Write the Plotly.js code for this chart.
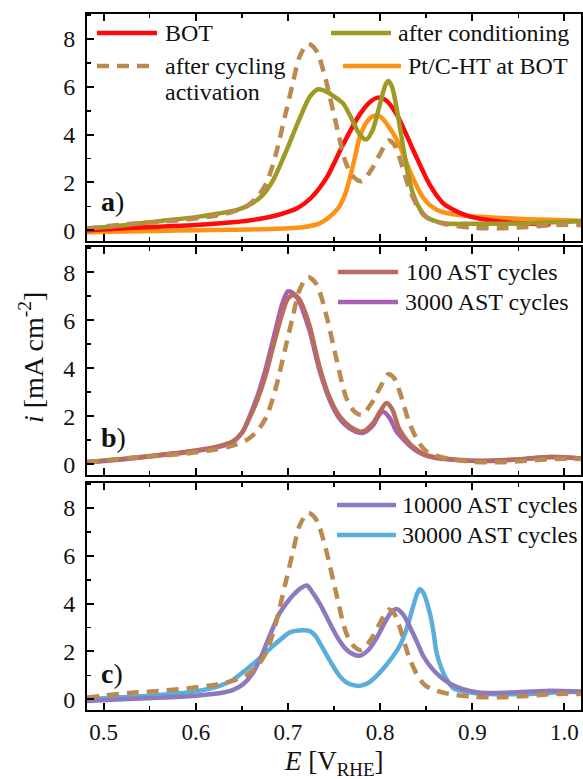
<!DOCTYPE html>
<html>
<head>
<meta charset="utf-8">
<script src="https://cdn.plot.ly/plotly-3.0.1.min.js"></script>
<style>
  html, body { margin: 0; padding: 0; background: #fff; }
  #chart { width: 583px; height: 779px; }
</style>
</head>
<body>
<div id="chart"></div>
<script>
// ---- Data: potential E [V_RHE] and current density i [mA cm^-2] ----
// after cycling activation (reference curve, shown in all panels)
const E_act = [0.482,0.50,0.53,0.56,0.59,0.62,0.64,0.655,0.667,0.677,0.687,0.697,0.705,0.713,0.722,0.731,0.741,0.752,0.763,0.772,0.780,0.790,0.800,0.809,0.815,0.821,0.832,0.842,0.850,0.862,0.875,0.90,0.93,0.96,0.99,1.018];
const I_act = [0.07,0.15,0.27,0.35,0.45,0.60,0.77,1.0,1.4,2.0,3.2,4.8,6.1,7.3,7.8,7.5,6.3,4.5,2.8,2.2,2.05,2.5,3.2,3.75,3.6,3.05,1.7,0.9,0.55,0.35,0.22,0.10,0.08,0.14,0.22,0.22];

// BOT
const E_bot = [0.482,0.52,0.56,0.60,0.64,0.67,0.69,0.71,0.725,0.742,0.76,0.778,0.79,0.798,0.806,0.818,0.836,0.854,0.868,0.88,0.895,0.91,0.94,0.97,0.985];
const I_bot = [0.0,0.07,0.15,0.22,0.33,0.48,0.65,0.92,1.35,2.2,3.6,4.85,5.4,5.55,5.45,4.85,3.35,1.9,1.15,0.85,0.6,0.47,0.32,0.26,0.25];

// after conditioning
const E_cond = [0.482,0.52,0.56,0.60,0.625,0.645,0.66,0.672,0.684,0.698,0.713,0.724,0.733,0.742,0.750,0.760,0.770,0.778,0.785,0.792,0.800,0.806,0.809,0.813,0.818,0.825,0.830,0.836,0.843,0.850,0.86,0.872,0.90,0.95,0.98,1.018];
const I_cond = [0.07,0.2,0.38,0.55,0.7,0.85,1.1,1.45,2.1,3.3,4.7,5.6,5.9,5.8,5.6,5.3,4.6,4.0,3.8,4.2,5.3,6.1,6.25,6.0,5.1,3.5,2.4,1.5,0.9,0.56,0.38,0.28,0.27,0.28,0.32,0.38];

// Pt/C-HT at BOT
const E_htc = [0.482,0.52,0.56,0.60,0.64,0.68,0.70,0.72,0.735,0.745,0.755,0.762,0.768,0.773,0.778,0.785,0.791,0.796,0.802,0.810,0.818,0.825,0.832,0.839,0.846,0.854,0.862,0.872,0.89,0.91,0.94,0.97,1.00,1.018];
const I_htc = [-0.08,-0.05,-0.03,0.0,0.02,0.05,0.08,0.15,0.3,0.55,0.95,1.5,2.3,3.1,3.9,4.5,4.75,4.8,4.7,4.3,3.8,3.2,2.5,1.9,1.4,1.05,0.85,0.72,0.62,0.56,0.5,0.45,0.42,0.4];

// 100 AST cycles
const E_100 = [0.482,0.52,0.56,0.60,0.625,0.64,0.65,0.658,0.667,0.675,0.684,0.694,0.700,0.706,0.712,0.718,0.724,0.734,0.745,0.756,0.770,0.781,0.792,0.800,0.807,0.813,0.821,0.830,0.836,0.846,0.858,0.88,0.91,0.95,0.985,1.018];
const I_100 = [0.1,0.22,0.38,0.57,0.75,0.95,1.3,1.9,2.7,3.6,4.9,6.3,6.9,7.05,6.9,6.4,5.7,4.1,2.8,2.0,1.5,1.36,1.7,2.2,2.55,2.3,1.45,0.95,0.72,0.45,0.3,0.2,0.14,0.2,0.3,0.24];

// 3000 AST cycles
const E_3000 = [0.482,0.52,0.56,0.60,0.625,0.64,0.65,0.658,0.667,0.675,0.684,0.694,0.700,0.705,0.712,0.718,0.724,0.734,0.745,0.756,0.770,0.781,0.792,0.798,0.803,0.810,0.818,0.830,0.836,0.846,0.858,0.88,0.91,0.95,0.985,1.018];
const I_3000 = [0.08,0.2,0.36,0.55,0.72,0.92,1.3,1.95,2.85,3.85,5.2,6.7,7.2,7.15,6.8,6.2,5.5,3.95,2.7,1.9,1.42,1.3,1.6,2.0,2.2,1.95,1.35,0.85,0.65,0.42,0.28,0.18,0.13,0.2,0.3,0.24];

// 10000 AST cycles
const E_10k = [0.482,0.52,0.56,0.60,0.625,0.64,0.652,0.662,0.670,0.677,0.684,0.691,0.700,0.7055,0.714,0.7206,0.727,0.7345,0.742,0.749,0.756,0.763,0.770,0.778,0.787,0.796,0.805,0.812,0.818,0.825,0.832,0.84,0.847,0.856,0.865,0.876,0.89,0.907,0.94,0.98,1.018];
const I_10k = [-0.07,0.0,0.06,0.15,0.25,0.38,0.65,1.1,1.7,2.35,3.0,3.6,4.1,4.35,4.65,4.76,4.45,4.0,3.45,2.92,2.45,2.1,1.9,1.82,2.05,2.55,3.2,3.65,3.78,3.55,3.05,2.4,1.8,1.3,0.95,0.65,0.42,0.28,0.28,0.35,0.32];

// 30000 AST cycles
const E_30k = [0.482,0.52,0.56,0.60,0.625,0.64,0.655,0.669,0.683,0.695,0.702,0.712,0.724,0.730,0.7345,0.742,0.749,0.756,0.763,0.770,0.778,0.787,0.796,0.805,0.814,0.820,0.825,0.830,0.836,0.840,0.843,0.847,0.854,0.858,0.861,0.866,0.872,0.88,0.90,0.925,0.96,1.0,1.018];
const I_30k = [0.0,0.08,0.18,0.33,0.55,0.8,1.25,1.7,2.2,2.6,2.8,2.88,2.85,2.65,2.36,1.85,1.39,0.98,0.72,0.6,0.56,0.68,0.97,1.35,1.8,2.15,2.55,3.1,3.9,4.4,4.6,4.45,3.6,2.8,2.0,1.35,0.85,0.45,0.27,0.21,0.22,0.3,0.3];

// ---- Styling ----
const FONT = '"Liberation Serif", Tinos, "Times New Roman", "DejaVu Serif", serif';
const W = 583, H = 779;
const M = {l: 87, r: 2, t: 14, b: 69};
const PW = W - M.l - M.r, PH = H - M.t - M.b;
const px2paper = (px, py) => ({x: (px - M.l) / PW, y: (H - M.b - py) / PH});

const LW = 4.5;
const S = {
  act:  {name: 'after cycling activation', color: '#BB8A4E', dash: '12px,8px'},
  bot:  {name: 'BOT', color: '#FF0A0A', dash: 'solid'},
  cond: {name: 'after conditioning', color: '#9F9A24', dash: 'solid'},
  htc:  {name: 'Pt/C-HT at BOT', color: '#FF9214', dash: 'solid'},
  c100: {name: '100 AST cycles', color: '#B86C5E', dash: 'solid'},
  c3k:  {name: '3000 AST cycles', color: '#A860B4', dash: 'solid'},
  c10k: {name: '10000 AST cycles', color: '#8C7ABF', dash: 'solid'},
  c30k: {name: '30000 AST cycles', color: '#5BAEDB', dash: 'solid'}
};

function tr(E, I, s, ax) {
  return {
    x: E, y: I, type: 'scatter', mode: 'lines', name: s.name,
    xaxis: ax[0], yaxis: ax[1],
    line: {color: s.color, width: LW, dash: s.dash, shape: 'spline', smoothing: 0.8},
    hoverinfo: 'skip'
  };
}

const A = ['x', 'y'], B = ['x2', 'y2'], C = ['x3', 'y3'];
const data = [
  tr(E_htc, I_htc, S.htc, A),
  tr(E_bot, I_bot, S.bot, A),
  tr(E_cond, I_cond, S.cond, A),
  tr(E_act, I_act, S.act, A),
  tr(E_3000, I_3000, S.c3k, B),
  tr(E_100, I_100, S.c100, B),
  tr(E_act, I_act, S.act, B),
  tr(E_30k, I_30k, S.c30k, C),
  tr(E_10k, I_10k, S.c10k, C),
  tr(E_act, I_act, S.act, C)
];

const xBase = {
  range: [0.482, 1.018], tick0: 0.5, dtick: 0.1, tickformat: '.1f',
  ticks: 'inside', ticklen: 7, tickwidth: 2, tickcolor: '#000',
  minor: {dtick: 0.05, ticks: 'inside', ticklen: 4, tickwidth: 1.5, tickcolor: '#000'},
  showline: true, linewidth: 2, linecolor: '#000', mirror: 'ticks',
  showgrid: false, zeroline: false,
  tickfont: {family: FONT, size: 23, color: '#111'}
};
const yBase = {
  range: [-0.45, 9.05], tick0: 0, dtick: 2,
  ticks: 'inside', ticklen: 7, tickwidth: 2, tickcolor: '#000',
  minor: {dtick: 1, ticks: 'inside', ticklen: 4, tickwidth: 1.5, tickcolor: '#000'},
  showline: true, linewidth: 2, linecolor: '#000', mirror: true,
  showgrid: false, zeroline: false,
  tickfont: {family: FONT, size: 24, color: '#111'},
  ticklabelstandoff: 5
};

const yDomA = [(H - M.b - 241) / PH, 1];
const yDomB = [(H - M.b - 475) / PH, (H - M.b - 247) / PH];
const yDomC = [0, (H - M.b - 483) / PH];

// legend entries: [style, line x0, line x1, y, text x, label]
const legendRows = [
  [S.bot, 97, 157, 33, 163, 'BOT'],
  [S.act, 97, 157, 66, 163, 'after cycling'],
  [null, 0, 0, 92, 163, 'activation'],
  [S.cond, 331, 391, 33, 396, 'after conditioning'],
  [S.htc, 343, 401, 66, 406, 'Pt/C-HT at BOT'],
  [S.c100, 338, 398, 272, 404, '100 AST cycles'],
  [S.c3k, 338, 398, 302, 403, '3000 AST cycles'],
  [S.c10k, 337, 396, 505, 400, '10000 AST cycles'],
  [S.c30k, 337, 396, 535, 400, '30000 AST cycles']
];

const shapes = [];
const annotations = [];
legendRows.forEach(([s, x0, x1, y, tx, label]) => {
  if (s) {
    const p0 = px2paper(x0, y), p1 = px2paper(x1, y);
    shapes.push({
      type: 'line', xref: 'paper', yref: 'paper',
      x0: p0.x, x1: p1.x, y0: p0.y, y1: p1.y,
      line: {color: s.color, width: LW, dash: s.dash}
    });
  }
  const pt = px2paper(tx, y);
  annotations.push({
    xref: 'paper', yref: 'paper', x: pt.x, y: pt.y,
    xanchor: 'left', yanchor: 'middle', showarrow: false,
    text: label, font: {family: FONT, size: 24, color: '#111'}
  });
});

// panel labels
[['a', 202], ['b', 437], ['c', 673]].forEach(([k, py]) => {
  const p = px2paper(99, py);
  annotations.push({
    xref: 'paper', yref: 'paper', x: p.x, y: p.y,
    xanchor: 'left', yanchor: 'middle', showarrow: false,
    text: '<b>' + k + '</b>)', font: {family: FONT, size: 28, color: '#111'}
  });
});

// axis titles
const yt = px2paper(32, 358);
annotations.push({
  xref: 'paper', yref: 'paper', x: yt.x, y: yt.y,
  xanchor: 'center', yanchor: 'middle', showarrow: false, textangle: -90,
  text: '<i>i</i> [mA cm<sup>-2</sup>]', font: {family: FONT, size: 28, color: '#111'}
});
const xt = px2paper(334, 763);
annotations.push({
  xref: 'paper', yref: 'paper', x: xt.x, y: xt.y,
  xanchor: 'center', yanchor: 'middle', showarrow: false,
  text: '<i>E</i> [V<sub>RHE</sub>]', font: {family: FONT, size: 27, color: '#111'}
});

const layout = {
  width: W, height: H,
  margin: M,
  font: {family: FONT},
  paper_bgcolor: '#fff', plot_bgcolor: '#fff',
  showlegend: false,
  xaxis:  Object.assign({}, xBase, {anchor: 'y', showticklabels: false}),
  yaxis:  Object.assign({}, yBase, {domain: yDomA, anchor: 'x'}),
  xaxis2: Object.assign({}, xBase, {anchor: 'y2', matches: 'x', showticklabels: false}),
  yaxis2: Object.assign({}, yBase, {domain: yDomB, anchor: 'x2'}),
  xaxis3: Object.assign({}, xBase, {anchor: 'y3', matches: 'x', showticklabels: true, ticklabelstandoff: 0}),
  yaxis3: Object.assign({}, yBase, {domain: yDomC, anchor: 'x3'}),
  shapes: shapes,
  annotations: annotations
};

Plotly.newPlot('chart', data, layout, {staticPlot: true, displayModeBar: false});
</script>
</body>
</html>
